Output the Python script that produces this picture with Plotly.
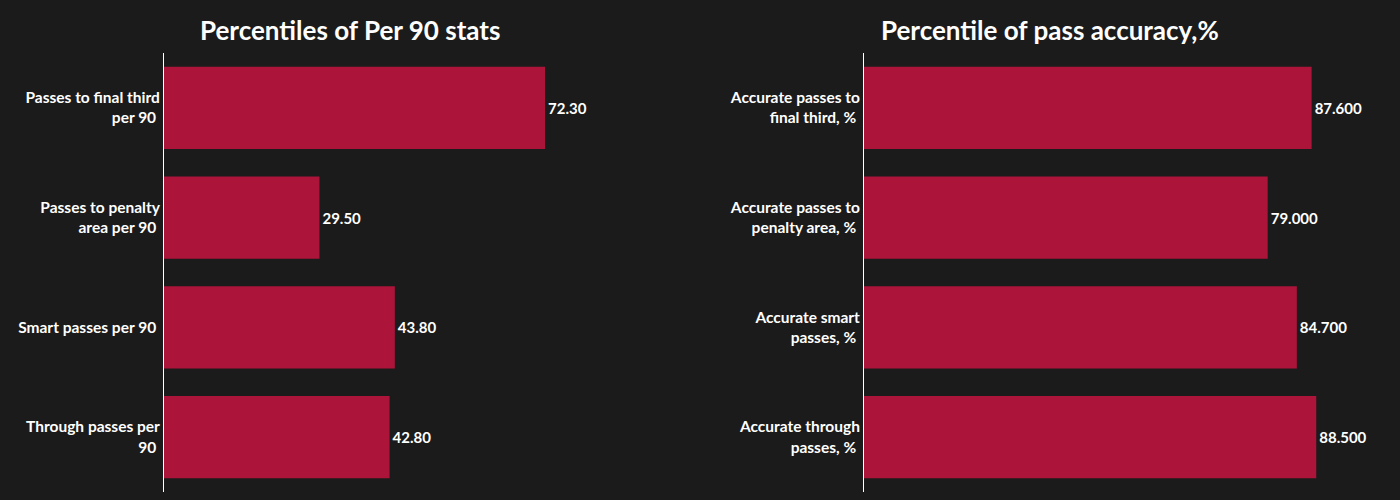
import plotly.graph_objects as go

left_labels = ["Passes to final third<br>per 90", "Passes to penalty<br>area per 90",
               "Smart passes per 90", "Through passes per<br>90"]
left_values = [72.3, 29.5, 43.8, 42.8]
right_labels = ["Accurate passes to<br>final third, %", "Accurate passes to<br>penalty area, %",
                "Accurate smart<br>passes, %", "Accurate through<br>passes, %"]
right_values = [87.6, 79.0, 84.7, 88.5]
titles = ["Percentiles of Per 90 stats", "Percentile of pass accuracy,%"]

BG = "#1b1b1b"
BAR = "#ad143a"
FONT = "Lato"
W, H = 1400, 500

fig = go.Figure()
fig.add_trace(go.Bar(x=left_values, y=left_labels, orientation="h", marker_color=BAR,
                     marker_line_width=0,
                     width=0.75, text=left_values, texttemplate="%{x:.2f}", textposition="outside",
                     cliponaxis=False,
                     textfont=dict(color="white", size=15, family=FONT, weight="bold"),
                     xaxis="x", yaxis="y", showlegend=False))
fig.add_trace(go.Bar(x=right_values, y=right_labels, orientation="h", marker_color=BAR,
                     marker_line_width=0,
                     width=0.75, text=right_values, texttemplate="%{x:.3f}", textposition="outside",
                     cliponaxis=False,
                     textfont=dict(color="white", size=15, family=FONT, weight="bold"),
                     xaxis="x2", yaxis="y2", showlegend=False))

yax = dict(autorange="reversed", showline=True, linecolor="white", linewidth=1,
           showgrid=False, ticks="", ticksuffix=" ",
           tickfont=dict(color="white", size=15.5, family=FONT, weight="bold"))
xax = dict(range=[0, 100], visible=False, showgrid=False, zeroline=False)

fig.update_layout(
    width=W, height=H,
    paper_bgcolor=BG, plot_bgcolor=BG,
    margin=dict(l=0, r=0, t=0, b=0),
    xaxis=dict(domain=[164 / W, 691 / W], anchor="y", **xax),
    yaxis=dict(domain=[8 / H, 447 / H], anchor="x", **yax),
    xaxis2=dict(domain=[864 / W, 1375 / W], anchor="y2", **xax),
    yaxis2=dict(domain=[8 / H, 447 / H], anchor="x2", **yax),
    bargap=0.25,
    annotations=[
        dict(text=titles[0], x=0.25, y=1 - 30 / H, xref="paper", yref="paper",
             xanchor="center", yanchor="middle",
             showarrow=False, font=dict(color="white", size=26, family=FONT, weight="bold")),
        dict(text=titles[1], x=0.75, y=1 - 30 / H, xref="paper", yref="paper",
             xanchor="center", yanchor="middle",
             showarrow=False, font=dict(color="white", size=26, family=FONT, weight="bold")),
    ],
)

fig.write_html("out.html")
